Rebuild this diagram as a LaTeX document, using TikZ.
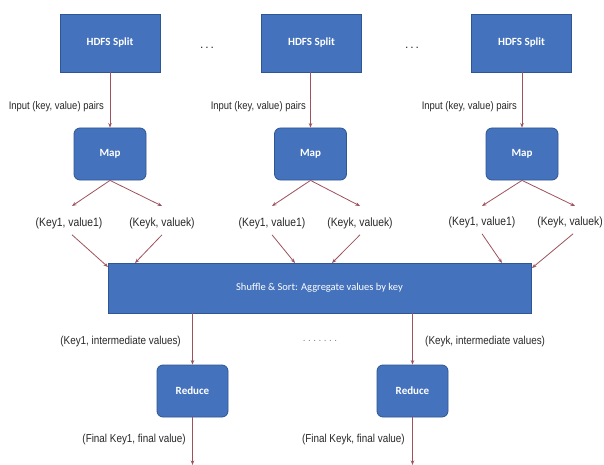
\documentclass[tikz,border=0pt]{standalone}
\usepackage{fontspec}
\setmainfont{Liberation Sans}
\newfontfamily\lblfont[FakeStretch=0.86]{Liberation Sans}
\newfontfamily\dotfont[LetterSpace=25]{Liberation Sans}
\newfontfamily\boxfont{Carlito}
\usetikzlibrary{arrows.meta}
\definecolor{boxfill}{RGB}{68,114,188}
\definecolor{boxline}{RGB}{46,86,146}
\definecolor{arrcol}{RGB}{158,82,92}
\definecolor{txtcol}{RGB}{40,40,40}
\tikzset{
  splitbox/.style={draw=boxline, fill=boxfill, line width=0.8pt, minimum width=100pt, minimum height=58pt, text=white, font=\boxfont\bfseries\fontsize{11}{13}\selectfont},
  procbox/.style={draw=boxline, fill=boxfill, line width=0.8pt, rounded corners=6pt, minimum width=72pt, minimum height=52pt, text=white, font=\boxfont\bfseries\fontsize{11}{13}\selectfont},
  shufbox/.style={draw=boxline, fill=boxfill, line width=0.8pt, minimum width=423pt, minimum height=50pt, text=white, font=\boxfont\fontsize{10.5}{12}\selectfont},
  inlbl/.style={text=txtcol, font=\lblfont\fontsize{11}{13}\selectfont, inner sep=0pt},
  kvlbl/.style={text=txtcol, font=\lblfont\fontsize{12}{14}\selectfont, inner sep=0pt},
  conn/.style={draw=arrcol, line width=0.8pt, -{Stealth[length=4.5pt,width=3.5pt]}},
}
\begin{document}
\begin{tikzpicture}[x=1pt,y=-1pt]
\useasboundingbox (0,0) rectangle (604,465);
\fill[white] (0,0) rectangle (604,465);
% HDFS splits
\node[splitbox] (s1) at (110,43) {HDFS Split};
\node[splitbox] (s2) at (311.5,43) {HDFS Split};
\node[splitbox] (s3) at (521.5,43) {HDFS Split};
\node[text=txtcol, font=\fontsize{12}{14}\selectfont] (d1) at (207,48) {.\,.\,.};
\node[text=txtcol, font=\fontsize{12}{14}\selectfont] (d2) at (412,48) {.\,.\,.};
% Maps
\node[procbox] (m1) at (110,154) {Map};
\node[procbox] (m2) at (310.5,154) {Map};
\node[procbox] (m3) at (522,154) {Map};
% input labels
\node[inlbl, anchor=east] (i1) at (104,107) {Input (key, value) pairs};
\node[inlbl, anchor=east] (i2) at (306,107) {Input (key, value) pairs};
\node[inlbl, anchor=east] (i3) at (517,107) {Input (key, value) pairs};
\draw[conn] (s1) -- (m1);
\draw[conn] (s2.south -| m2) -- (m2);
\draw[conn] (s3.south -| m3) -- (m3);
% key/value labels
\node[kvlbl] (k11) at (69,223) {(Key1, value1)};
\node[kvlbl] (k1k) at (162,223) {(Keyk, valuek)};
\node[kvlbl] (k21) at (272,223) {(Key1, value1)};
\node[kvlbl] (k2k) at (360,223) {(Keyk, valuek)};
\node[kvlbl] (k31) at (482,222) {(Key1, value1)};
\node[kvlbl, anchor=east] (k3k) at (603,222) {(Keyk, valuek)};
% arrow heads under maps
\coordinate (h11) at (72,206);
\coordinate (h1k) at (162,206);
\coordinate (h21) at (272,206);
\coordinate (h2k) at (360,206);
\coordinate (h31) at (482,206);
\coordinate (h3k) at (575,206);
\draw[conn] (m1.south) -- (h11);
\draw[conn] (m1.south) -- (h1k);
\draw[conn] (m2.south) -- (h21);
\draw[conn] (m2.south) -- (h2k);
\draw[conn] (m3.south) -- (h31);
\draw[conn] (m3.south) -- (h3k);
% shuffle
\node[shufbox] (sh) at (319.5,288) {Shuffle \& Sort: Aggregate values by key};
\coordinate (t11) at (108,267);
\coordinate (t1k) at (135,263);
\coordinate (t21) at (295,263);
\coordinate (t2k) at (332,263);
\coordinate (t31) at (502,263);
\coordinate (t3k) at (532,268);
\draw[conn] ([shift={(3,6)}]k11.south) -- (t11);
\draw[conn] ([shift={(0,6)}]k1k.south) -- (t1k);
\draw[conn] ([shift={(0,6)}]k21.south) -- (t21);
\draw[conn] ([shift={(0,6)}]k2k.south) -- (t2k);
\draw[conn] ([shift={(0,6)}]k31.south) -- (t31);
\draw[conn] ([shift={(3,6)}]k3k.south) -- (t3k);
% reduces
\node[procbox, minimum width=71pt] (r1) at (192.5,391) {Reduce};
\node[procbox, minimum width=71pt] (r2) at (412.5,391) {Reduce};
\draw[conn] (sh.south -| r1) -- (r1.north);
\draw[conn] (sh.south -| r2) -- (r2.north);
\node[inlbl, font=\lblfont\fontsize{11.5}{13}\selectfont, anchor=east] (iv1) at (181,342) {(Key1, intermediate values)};
\node[inlbl, font=\lblfont\fontsize{11.5}{13}\selectfont, anchor=west] (ivk) at (425,342) {(Keyk, intermediate values)};
\node[text=gray, font=\dotfont\fontsize{10}{12}\selectfont] (dd) at (320,341) {.......};
\coordinate (f1) at (192.5,465);
\coordinate (f2) at (412.5,465);
\draw[conn] (r1.south) -- (f1);
\draw[conn] (r2.south) -- (f2);
\node[inlbl, font=\lblfont\fontsize{11.5}{13}\selectfont, anchor=east] (o1) at (186,440) {(Final Key1, final value)};
\node[inlbl, font=\lblfont\fontsize{11.5}{13}\selectfont, anchor=east] (o2) at (405,440) {(Final Keyk, final value)};
\end{tikzpicture}
\end{document}
